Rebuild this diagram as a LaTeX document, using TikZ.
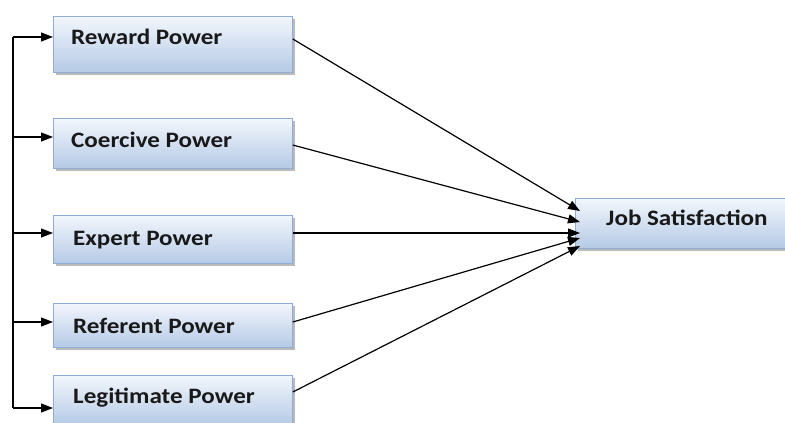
\documentclass[tikz,border=0pt]{standalone}
\usepackage{fontspec}
\setmainfont{Carlito}
\newfontfamily\boxfont[FakeStretch=1.14]{Carlito}
\usetikzlibrary{arrows.meta,shadows}
\definecolor{boxtop}{HTML}{F2F6FC}
\definecolor{boxbot}{HTML}{B5CAE6}
\definecolor{boxline}{HTML}{8EADD6}
\tikzset{
  powerbox/.style={draw=boxline, line width=0.8pt, top color=boxtop, bottom color=boxbot,
    anchor=north west, inner sep=0pt, minimum width=#1,
    drop shadow={shadow xshift=2.5pt, shadow yshift=-2.5pt, fill=black!45, opacity=0.6}},
  powerbox/.default=239pt,
  boxtext/.style={anchor=base west, inner sep=0pt, font=\boxfont\fontsize{22}{24}\selectfont\bfseries, text=black!90},
  link/.style={line width=1.2pt, -{Triangle[length=12pt,width=9pt]}},
  wire/.style={line width=1.2pt},
}
\begin{document}
\begin{tikzpicture}[x=1pt,y=-1pt]
\useasboundingbox (0,0) rectangle (785,423);
% source boxes
\node[powerbox, minimum height=56pt] (reward) at (53,16) {};
\node[powerbox, minimum height=50pt] (coercive) at (53,118) {};
\node[powerbox, minimum height=48pt] (expert) at (53,215) {};
\node[powerbox, minimum height=44pt] (referent) at (53,303) {};
\node[powerbox, minimum height=50pt] (legit) at (53,375) {};
% target box
\node[powerbox=212pt, minimum height=50pt] (job) at (575,198) {};
% labels
\node[boxtext] (treward) at (71,45) {Reward Power};
\node[boxtext] (tcoercive) at (71,147) {Coercive Power};
\node[boxtext] (texpert) at (73,245) {Expert Power};
\node[boxtext] (treferent) at (73,333) {Referent Power};
\node[boxtext] (tlegit) at (73,403) {Legitimate Power};
\node[boxtext] (tjob) at (606,225) {Job Satisfaction};
% left trunk feeding every power box
\coordinate (ta) at (13,37);
\coordinate (tb) at (13,137);
\coordinate (tc) at (13,233);
\coordinate (td) at (13,322);
\coordinate (te) at (13,408);
\draw[wire] (ta) -- (te);
\draw[link] (ta) -- (reward.west |- ta);
\draw[link] (tb) -- (coercive.west |- tb);
\draw[link] (tc) -- (expert.west |- tc);
\draw[link] (td) -- (referent.west |- td);
\draw[link] (te) -- (legit.west |- te);
% links into job satisfaction
\coordinate (ja) at (580,211);
\coordinate (jb) at (580,222);
\coordinate (jc) at (580,233);
\coordinate (jd) at (580,238);
\coordinate (je) at (580,246);
\draw[link] (reward.east |- 0,39) -- (ja);
\draw[link] (coercive.east |- 0,145) -- (jb);
\draw[link] (expert.east |- 0,233) -- (jc);
\draw[link] (referent.east |- 0,322) -- (jd);
\draw[link] (legit.east |- 0,392) -- (je);
\end{tikzpicture}
\end{document}
